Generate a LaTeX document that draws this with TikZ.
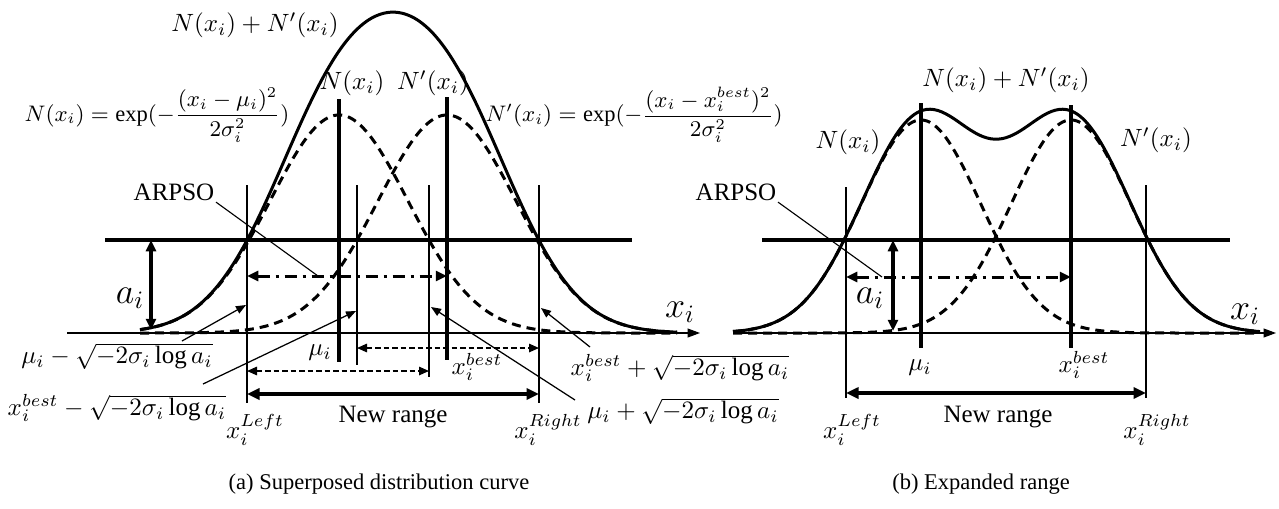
\documentclass[tikz,border=0pt]{standalone}
\usepackage{amsmath}
\usepackage{fontspec}
\setmainfont{Liberation Serif}
\usetikzlibrary{arrows.meta, positioning}
\tikzset{
    curve/.style={line width=1.2pt},
    dcurve/.style={line width=1.2pt, dash pattern=on 3.6pt off 2.4pt},
    thinline/.style={line width=0.45pt},
    thickline/.style={line width=1.6pt},
    lbl/.style={inner sep=0.5pt, font=\normalsize},
    leader/.style={line width=0.5pt, -{Triangle[length=4pt,width=3.2pt]}},
    rangearrow/.style={line width=1.5pt, {Triangle[length=5pt,width=4.4pt]}-{Triangle[length=5pt,width=4.4pt]}},
    shiftarrow/.style={line width=0.6pt, dash pattern=on 2.2pt off 1.2pt, {Triangle[length=4pt,width=3.4pt]}-{Triangle[length=4pt,width=3.4pt]}},
    searcharrow/.style={line width=1.2pt, dash pattern=on 5pt off 2.2pt on 1.4pt off 2.2pt, {Triangle[length=4.5pt,width=4pt]}-{Triangle[length=4.5pt,width=4pt]}},
    heightarrow/.style={line width=1.5pt, {Triangle[length=4.5pt,width=4pt]}-{Triangle[length=4.5pt,width=4pt]}},
    caption/.style={inner sep=0pt, font=\fontsize{9}{11}\selectfont}
}

\begin{document}
\begin{tikzpicture}[x=0.4pt, y=-0.4pt]
    \useasboundingbox (0,0) rectangle (1279,508);

    % (a) superposed distribution curve
    \draw[thinline, -{Triangle[length=5pt,width=3.6pt]}] (67,333) -- (700,333) coordinate (aAxisEnd);
    \draw[thickline] (105,240) -- (632,240);
    \draw[dcurve] plot[domain=140:677, samples=120, smooth] (\x, {333-218*exp(-((\x-339)/97.5)^2)});
    \draw[dcurve] plot[domain=140:677, samples=120, smooth] (\x, {333-218*exp(-((\x-447)/97.5)^2)});
    \draw[curve] plot[domain=140:677, samples=140, smooth] (\x, {333-218*(exp(-((\x-339)/97.5)^2)+exp(-((\x-447)/97.5)^2))});

    \coordinate (aLeftTop) at (247,185);  \coordinate (aLeftBot) at (247,403);
    \coordinate (aRightTop) at (539,185); \coordinate (aRightBot) at (539,403);
    \coordinate (aInTop) at (357,185);    \coordinate (aInBot) at (357,365);
    \coordinate (aOutTop) at (429,185);   \coordinate (aOutBot) at (429,377);
    \coordinate (aMuTop) at (339,99);     \coordinate (aMuBot) at (339,362);
    \coordinate (aBestTop) at (447,97);   \coordinate (aBestBot) at (447,360);
    \draw[thinline] (aLeftTop) -- (aLeftBot);
    \draw[thinline] (aRightTop) -- (aRightBot);
    \draw[thinline] (aInTop) -- (aInBot);
    \draw[thinline] (aOutTop) -- (aOutBot);
    \draw[thickline] (aMuTop) -- (aMuBot);
    \draw[thickline] (aBestTop) -- (aBestBot);

    \node[lbl] (aSum) at (255,25) {$N(x_i)+N'(x_i)$};
    \node[lbl] (aN) at (352,83) {$N(x_i)$};
    \node[lbl] (aNp) at (433,83) {$N'(x_i)$};
    \node[lbl, font=\small] (aNdef) at (157,115) {$N(x_i)=\exp(-\dfrac{(x_i-\mu_i)^2}{2\sigma_i^2})$};
    \node[lbl, font=\small] (aNpdef) at (634,115) {$N'(x_i)=\exp(-\dfrac{(x_i-x_i^{best})^2}{2\sigma_i^2})$};
    \node[lbl] (aArpso) at (174,192) {ARPSO};
    \node[lbl, font=\Large] (aA) at (130,298) {$a_i$};
    \node[lbl, font=\Large] (aX) at (680,312) {$x_i$};
    \node[lbl] (aMu) at (320,353) {$\mu_i$};
    \node[lbl] (aBest) at (477,367) {$x_i^{best}$};
    \node[lbl] (aMuMinus) at (117,356) {$\mu_i-\sqrt{-2\sigma_i\log a_i}$};
    \node[lbl] (aBestMinus) at (117,408) {$x_i^{best}-\sqrt{-2\sigma_i\log a_i}$};
    \node[lbl] (aBestPlus) at (680,368) {$x_i^{best}+\sqrt{-2\sigma_i\log a_i}$};
    \node[lbl] (aMuPlus) at (683,411) {$\mu_i+\sqrt{-2\sigma_i\log a_i}$};
    \node[lbl] (aLeft) at (255,430) {$x_i^{Left}$};
    \node[lbl] (aRight) at (548,430) {$x_i^{Right}$};
    \node[lbl] (aRange) at (393,417) {New range};
    \node[caption] (aCap) at (379,484) {(a) Superposed distribution curve};

    \draw[heightarrow] (151,240) -- (151,330);
    \draw[searcharrow] (247,276) -- (447,276);
    \draw[shiftarrow] (247,371) -- (429,371);
    \draw[shiftarrow] (357,348) -- (539,348);
    \draw[rangearrow] (247,394) -- (539,394);
    \coordinate (aArpsoEnd) at (318,276);
    \draw[thinline] (aArpso.south east) -- (aArpsoEnd);
    \coordinate (aMuMinusFrom) at (182,341);  \coordinate (aMuMinusTo) at (246,305);
    \coordinate (aBestMinusFrom) at (203,384); \coordinate (aBestMinusTo) at (356,311);
    \coordinate (aBestPlusFrom) at (590,347);  \coordinate (aBestPlusTo) at (541,308);
    \coordinate (aMuPlusFrom) at (575,400);    \coordinate (aMuPlusTo) at (431,307);
    \draw[leader] (aMuMinusFrom) -- (aMuMinusTo);
    \draw[leader] (aBestMinusFrom) -- (aBestMinusTo);
    \draw[leader] (aBestPlusFrom) -- (aBestPlusTo);
    \draw[leader] (aMuPlusFrom) -- (aMuPlusTo);

    % (b) expanded range
    \draw[thinline, -{Triangle[length=5pt,width=3.6pt]}] (733,333) -- (1276,333) coordinate (bAxisEnd);
    \draw[thickline] (762,240) -- (1230,240);
    \draw[dcurve] plot[domain=733:1260, samples=120, smooth] (\x, {333-213*exp(-((\x-921)/84.5)^2)});
    \draw[dcurve] plot[domain=733:1260, samples=120, smooth] (\x, {333-213*exp(-((\x-1071)/84.5)^2)});
    \draw[curve] plot[domain=733:1260, samples=140, smooth] (\x, {333-213*(exp(-((\x-921)/84.5)^2)+exp(-((\x-1071)/84.5)^2))});

    \coordinate (bLeftTop) at (846,187);  \coordinate (bLeftBot) at (846,398);
    \coordinate (bRightTop) at (1146,185); \coordinate (bRightBot) at (1146,398);
    \coordinate (bMuTop) at (921,103);    \coordinate (bMuBot) at (921,348);
    \coordinate (bBestTop) at (1071,105); \coordinate (bBestBot) at (1071,348);
    \draw[thinline] (bLeftTop) -- (bLeftBot);
    \draw[thinline] (bRightTop) -- (bRightBot);
    \draw[thickline] (bMuTop) -- (bMuBot);
    \draw[thickline] (bBestTop) -- (bBestBot);

    \node[lbl] (bSum) at (1006,80) {$N(x_i)+N'(x_i)$};
    \node[lbl] (bN) at (848,142) {$N(x_i)$};
    \node[lbl] (bNp) at (1156,140) {$N'(x_i)$};
    \node[lbl] (bArpso) at (736,192) {ARPSO};
    \node[lbl, font=\Large] (bA) at (870,298) {$a_i$};
    \node[lbl, font=\Large] (bX) at (1245,314) {$x_i$};
    \node[lbl] (bMu) at (920,368) {$\mu_i$};
    \node[lbl] (bBest) at (1084,365) {$x_i^{best}$};
    \node[lbl] (bLeft) at (852,430) {$x_i^{Left}$};
    \node[lbl] (bRight) at (1157,430) {$x_i^{Right}$};
    \node[lbl] (bRange) at (998,417) {New range};
    \node[caption] (bCap) at (981,484) {(b) Expanded range};

    \draw[heightarrow] (893,240) -- (893,331);
    \draw[searcharrow] (846,277) -- (1071,277);
    \draw[rangearrow] (846,393) -- (1146,393);
    \coordinate (bArpsoEnd) at (882,277);
    \draw[thinline] (bArpso.south east) -- (bArpsoEnd);
\end{tikzpicture}
\end{document}
